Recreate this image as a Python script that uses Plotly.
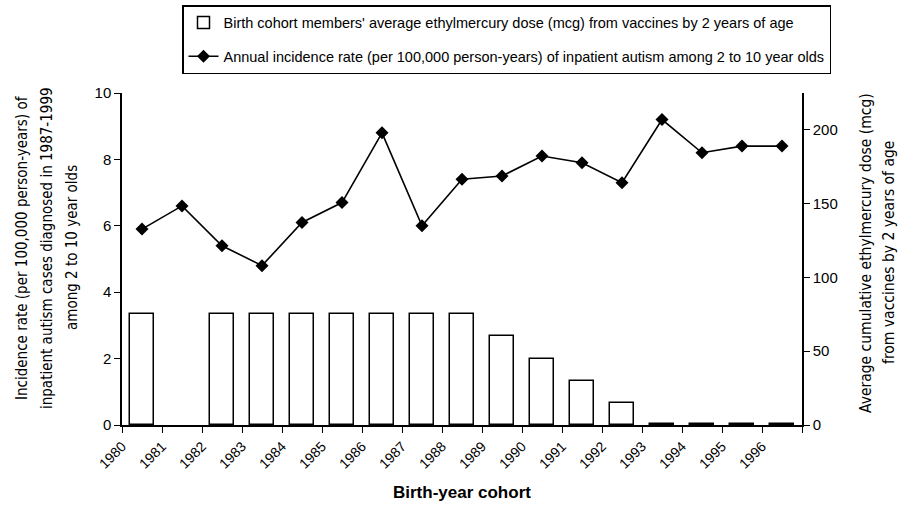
import plotly.graph_objects as go

years = ["1980","1981","1982","1983","1984","1985","1986","1987","1988",
         "1989","1990","1991","1992","1993","1994","1995","1996"]
dose_mcg = [75, 0, 75, 75, 75, 75, 75, 75, 75, 60, 45, 30, 15, 0.6, 0.6, 0.6, 0.6]
incidence = [5.9, 6.6, 5.4, 4.8, 6.1, 6.7, 8.8, 6.0, 7.4, 7.5, 8.1, 7.9, 7.3, 9.2, 8.2, 8.4, 8.4]
left_ticks = [0, 2, 4, 6, 8, 10]
right_ticks = [0, 50, 100, 150, 200]
left_title = ["Incidence rate (per 100,000 person-years) of",
              "inpatient autism cases diagnosed in 1987-1999",
              "among 2 to 10 year olds"]
right_title = ["Average cumulative ethylmercury dose (mcg)",
               "from vaccines by 2 years of age"]

pos = [i + 0.5 for i in range(len(years))]
FONT = "DejaVu Sans Condensed, Liberation Sans Narrow, Arial Narrow, sans-serif"
BASE = "Liberation Sans, Arial, sans-serif"

L, R, T, B, W, H = 122, 99, 93, 83, 901, 508
PW, PH = W - L - R, H - T - B

def px(xp):
    return (xp - L) / PW

def py(yp):
    return (H - B - yp) / PH

fig = go.Figure()
fig.add_trace(go.Bar(
    x=pos, y=[v if v > 0 else None for v in dose_mcg], yaxis="y2", width=0.6,
    marker=dict(color="white", line=dict(color="black", width=1.5)),
    name="Birth cohort members' average ethylmercury dose (mcg) from vaccines by 2 years of age",
    legendgroup="a",
))
fig.add_trace(go.Scatter(
    x=pos, y=incidence, mode="lines+markers",
    line=dict(color="black", width=1.6),
    marker=dict(symbol="diamond", size=10, color="black"),
    name="Annual incidence rate (per 100,000 person-years) of inpatient autism among 2 to 10 year olds",
    legendgroup="b",
))

fig.update_layout(
    width=W, height=H,
    margin=dict(l=L, r=R, t=T, b=B, autoexpand=False),
    paper_bgcolor="white", plot_bgcolor="white",
    font=dict(family=BASE, color="black", size=14),
    showlegend=True,
    legend=dict(x=px(182), y=py(5), xanchor="left", yanchor="top",
                bordercolor="black", borderwidth=1.5, bgcolor="white",
                font=dict(family=BASE, size=14.5),
                traceorder="grouped", tracegroupgap=12,
                itemwidth=30),
    xaxis=dict(range=[0, 17], tickmode="array",
               tickvals=list(range(len(years) + 1)),
               ticktext=years + [""],
               tickangle=-45, ticks="outside", ticklen=6, tickcolor="black",
               showline=True, linecolor="black", linewidth=1.5,
               showgrid=False, zeroline=False,
               tickfont=dict(family=BASE, size=14)),
    yaxis=dict(range=[0, 10], tickvals=left_ticks, ticks="outside", ticklen=6,
               tickcolor="black", showline=True, linecolor="black", linewidth=1.5,
               showgrid=False, zeroline=False, tickfont=dict(family=BASE, size=15)),
    yaxis2=dict(range=[0, 225], tickvals=right_ticks, overlaying="y", side="right",
                ticks="outside", ticklen=6, tickcolor="black",
                showline=True, linecolor="black", linewidth=1.5,
                showgrid=False, zeroline=False, tickfont=dict(family=BASE, size=15)),
    bargap=0,
)

for xpix, line in zip([22, 47, 72], left_title):
    fig.add_annotation(xref="paper", yref="paper", x=px(xpix), y=py(248), xanchor="center",
                       yanchor="middle", textangle=-90, showarrow=False, text=line,
                       font=dict(family=FONT, size=15))
for xpix, line in zip([866, 889], right_title):
    fig.add_annotation(xref="paper", yref="paper", x=px(xpix), y=py(253), xanchor="center",
                       yanchor="middle", textangle=-90, showarrow=False, text=line,
                       font=dict(family=FONT, size=15.5))
fig.add_annotation(xref="paper", yref="paper", x=0.5, y=py(493), xanchor="center", yanchor="middle",
                   showarrow=False, text="<b>Birth-year cohort</b>",
                   font=dict(family=BASE, size=17))

fig.write_html("out.html", config={"displayModeBar": False},
               post_script="document.body.style.margin='0';")
